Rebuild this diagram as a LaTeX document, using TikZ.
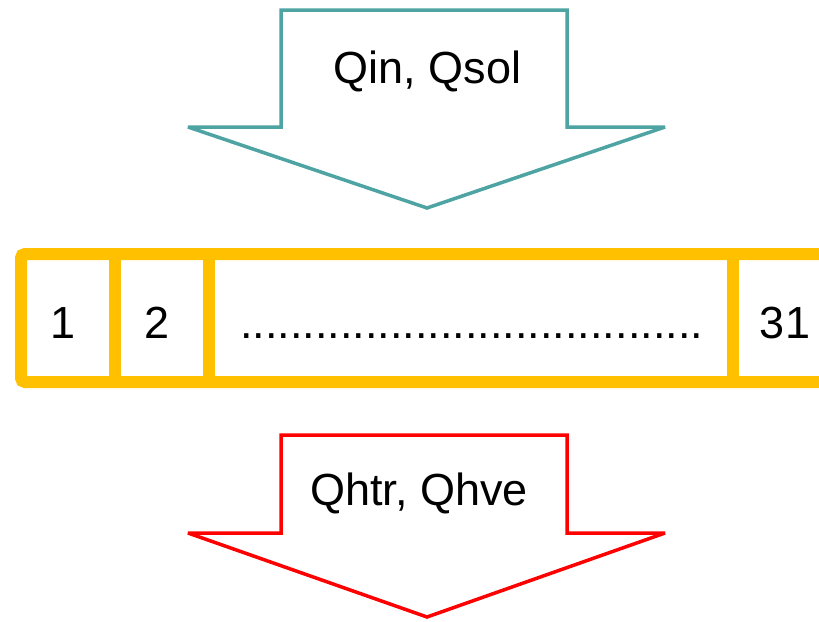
\documentclass[tikz,border=0pt]{standalone}
\usepackage{fontspec}
\setmainfont{Liberation Sans}
\definecolor{inflow}{RGB}{78,163,163}
\definecolor{outflow}{RGB}{255,0,0}
\definecolor{barframe}{RGB}{255,192,0}
\tikzset{
  flowarrow/.style={line width=3.5pt, line join=miter, miter limit=2, fill=white},
  label/.style={inner sep=0pt, anchor=base, font=\fontsize{45}{54}\selectfont},
  cellrule/.style={barframe, line width=12pt},
}
\begin{document}
\begin{tikzpicture}[x=1pt, y=-1pt]
\useasboundingbox (0,0) rectangle (819,621);
\clip (0,0) rectangle (819,621);
\fill[white] (0,0) rectangle (819,621);

% incoming heat arrow
\draw[flowarrow, draw=inflow]
  (281,10) -- (567,10) -- (567,127) -- (665,127) -- (427,208)
  -- (188,127) -- (281,127) -- cycle;
\node[label] (qin) at (427.5,83) {Qin, Qsol};

% segmented bar with 31 cells
\draw[cellrule, rounded corners=4pt] (21,254) rectangle (840,382);
\coordinate (d1t) at (115,254); \coordinate (d1b) at (115,382);
\coordinate (d2t) at (209,254); \coordinate (d2b) at (209,382);
\coordinate (d3t) at (733,254); \coordinate (d3b) at (733,382);
\draw[cellrule] (d1t) -- (d1b);
\draw[cellrule] (d2t) -- (d2b);
\draw[cellrule] (d3t) -- (d3b);
\node[label] (c1) at (63,338) {1};
\node[label] (c2) at (157,338) {2};
\node[label, anchor=base west] (dots) at (240,338) {.....................................};
\node[label] (c31) at (785,338) {31};

% outgoing heat arrow
\draw[flowarrow, draw=outflow]
  (281,435) -- (567,435) -- (567,533) -- (665,533) -- (427,617)
  -- (188,533) -- (281,533) -- cycle;
\node[label] (qhtr) at (419,505) {Qhtr, Qhve};
\end{tikzpicture}
\end{document}
